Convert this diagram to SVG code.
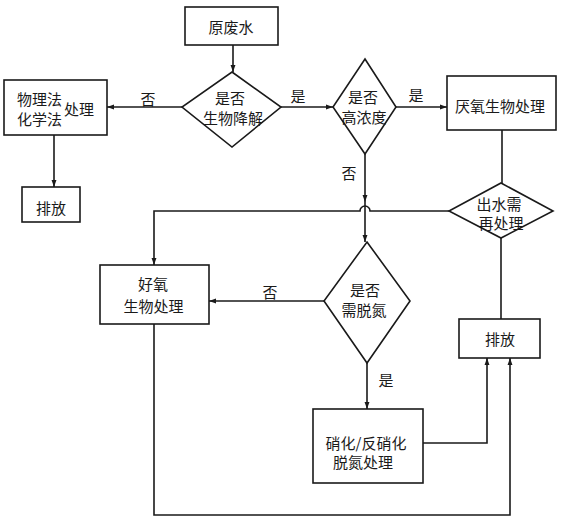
<svg xmlns="http://www.w3.org/2000/svg" width="564" height="529" viewBox="0 0 564 529">
<style>
.box{fill:#fff;stroke:#1a1a1a;stroke-width:1.6}
.ln{fill:none;stroke:#1a1a1a;stroke-width:1.6}
text{font-family:"Noto Sans CJK SC","Noto Sans CJK JP",sans-serif;font-size:15px;fill:#1a1a1a;text-anchor:middle;dominant-baseline:central}
</style>
<defs>
<marker id="ah" viewBox="0 0 10 10" refX="10" refY="5" markerWidth="7" markerHeight="7" markerUnits="userSpaceOnUse" orient="auto">
<path d="M0,1.5 L10,5 L0,8.5 Z" fill="#1a1a1a"/>
</marker>
</defs>
<rect width="564" height="529" fill="#fff"/>
<g id="connectors">
<path class="ln" d="M233,45 V72" marker-end="url(#ah)"/>
<path class="ln" d="M182,107 H107" marker-end="url(#ah)"/>
<path class="ln" d="M54,135 V187" marker-end="url(#ah)"/>
<path class="ln" d="M281,107 H333" marker-end="url(#ah)"/>
<path class="ln" d="M396,107 H447" marker-end="url(#ah)"/>
<path class="ln" d="M502,130 V183"/>
<path class="ln" d="M365,154 V202" marker-end="url(#ah)"/>
<path class="ln" d="M365,202 V242" marker-end="url(#ah)"/>
<path class="ln" d="M449,211 H370 A5,5 0 0 0 360,211 H154 V265" marker-end="url(#ah)"/>
<path class="ln" d="M501,238 V319"/>
<path class="ln" d="M324,301 H209" marker-end="url(#ah)"/>
<path class="ln" d="M367,363 V409" marker-end="url(#ah)"/>
<path class="ln" d="M423,443 H487 V358" marker-end="url(#ah)"/>
<path class="ln" d="M154,324 V515 H510 V358" marker-end="url(#ah)"/>
<text x="148" y="98">否</text>
<text x="298" y="95">是</text>
<text x="416" y="94">是</text>
<text x="349" y="172">否</text>
<text x="270" y="291">否</text>
<text x="386" y="379">是</text>
</g>
<g id="raw">
<rect class="box" x="185" y="7" width="93" height="38"/>
<text x="231" y="26">原废水</text>
</g>
<g id="d-bio">
<polygon class="box" points="232,72 281,107 232,147 182,107"/>
<text x="230" y="97">是否</text>
<text x="233" y="117">生物降解</text>
</g>
<g id="physchem">
<rect class="box" x="4" y="80" width="103" height="55"/>
<text x="39.5" y="98">物理法</text>
<text x="39.5" y="118">化学法</text>
<text x="79" y="108">处理</text>
</g>
<g id="discharge1">
<rect class="box" x="22" y="187" width="58" height="35"/>
<text x="51" y="207">排放</text>
</g>
<g id="d-conc">
<polygon class="box" points="365,59 396,107 365,154 333,107"/>
<text x="363" y="96">是否</text>
<text x="364" y="116">高浓度</text>
</g>
<g id="anaerobic">
<rect class="box" x="447" y="76" width="109" height="54"/>
<text x="500" y="105">厌氧生物处理</text>
</g>
<g id="d-retreat">
<polygon class="box" points="501,183 553,211 501,238 449,211"/>
<text x="499" y="203">出水需</text>
<text x="501" y="222">再处理</text>
</g>
<g id="d-denit">
<polygon class="box" points="367,242 410,301 367,363 324,301"/>
<text x="365" y="289">是否</text>
<text x="364" y="309">需脱氮</text>
</g>
<g id="aerobic">
<rect class="box" x="100" y="265" width="109" height="59"/>
<text x="153" y="283">好氧</text>
<text x="153.5" y="305">生物处理</text>
</g>
<g id="nitrif">
<rect class="box" x="313" y="409" width="110" height="74"/>
<text x="366" y="442">硝化/反硝化</text>
<text x="363" y="461">脱氮处理</text>
</g>
<g id="discharge2">
<rect class="box" x="459" y="319" width="81" height="39"/>
<text x="500" y="338">排放</text>
</g>
</svg>
